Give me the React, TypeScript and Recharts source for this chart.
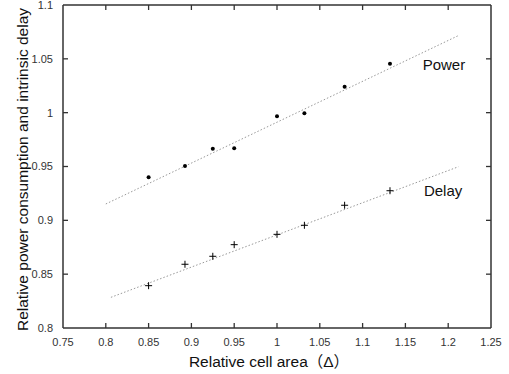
import {
  ReferenceDot,
  Scatter,
  ScatterChart,
  XAxis,
  YAxis,
} from "recharts"

const areaValues = [0.85, 0.8925, 0.925, 0.95, 1.0, 1.032, 1.079, 1.132]
const powerValues = [0.94, 0.9505, 0.9665, 0.967, 0.9966, 0.9994, 1.0241, 1.0455]
const delayValues = [0.8393, 0.8592, 0.8666, 0.8774, 0.887, 0.8954, 0.914, 0.9275]

const powerFit = [
  { x: 0.8, y: 0.9152 },
  { x: 1.213, y: 1.072 },
]
const delayFit = [
  { x: 0.806, y: 0.8285 },
  { x: 1.212, y: 0.9498 },
]

const xTicks = [0.75, 0.8, 0.85, 0.9, 0.95, 1, 1.05, 1.1, 1.15, 1.2, 1.25]
const yTicks = [0.8, 0.85, 0.9, 0.95, 1, 1.05, 1.1]

const X_MIN = 0.75
const X_MAX = 1.25
const Y_MIN = 0.8
const Y_MAX = 1.1

const powerData = areaValues.map((x, i) => ({ x, y: powerValues[i] }))
const delayData = areaValues.map((x, i) => ({ x, y: delayValues[i] }))

// tick positions on the frame, drawn as scatter marks pointing inward
const innerX = xTicks.slice(1, -1)
const innerY = yTicks.slice(1, -1)
const bottomTicks = innerX.map((x) => ({ x, y: Y_MIN }))
const topTicks = innerX.map((x) => ({ x, y: Y_MAX }))
const leftTicks = innerY.map((y) => ({ x: X_MIN, y }))
const rightTicks = innerY.map((y) => ({ x: X_MAX, y }))

const FONT = "Arial, 'Liberation Sans', 'Noto Sans CJK SC', sans-serif"
const AXIS = "#333"
const axisLine = { stroke: AXIS, strokeWidth: 1.5 }
const tickStyle = { fontSize: 11, fill: "#333", fontFamily: FONT }
const labelStyle = { fontSize: 15.5, fill: "#111", fontFamily: FONT }
const TL = 5

const makeTick = (dx: number, dy: number) => (props: any) => {
  const { cx, cy } = props
  return (
    <line x1={cx} y1={cy} x2={cx + dx} y2={cy + dy} stroke={AXIS} strokeWidth={1.3} />
  )
}
const UpTick = makeTick(0, -TL)
const DownTick = makeTick(0, TL)
const RightTick = makeTick(TL, 0)
const LeftTick = makeTick(-TL, 0)

const Dot = (props: any) => (
  <circle cx={props.cx} cy={props.cy} r={2} fill="#000" />
)

const Plus = (props: any) => {
  const { cx, cy } = props
  return (
    <g stroke="#000" strokeWidth={1}>
      <line x1={cx - 3.5} y1={cy} x2={cx + 3.5} y2={cy} />
      <line x1={cx} y1={cy - 3.5} x2={cx} y2={cy + 3.5} />
    </g>
  )
}

const Nothing = () => <g />

const fitLine = { stroke: "#999", strokeWidth: 1, strokeDasharray: "1.5 2" }

export default function App() {
  return (
    <div style={{ position: "absolute", left: 0, top: 0, background: "#fff" }}>
      <ScatterChart
        width={509}
        height={374}
        margin={{ top: 4, right: 17, bottom: 0, left: 0 }}
      >
        <XAxis
          type="number"
          dataKey="x"
          domain={[X_MIN, X_MAX]}
          ticks={xTicks}
          interval={0}
          height={46}
          axisLine={axisLine}
          tickLine={false}
          tickMargin={4}
          tick={tickStyle}
          tickFormatter={(v: number) => String(v)}
          label={{
            value: "Relative cell area（Δ）",
            position: "insideBottom",
            offset: 7,
            dx: -8,
            style: labelStyle,
          }}
        />
        <XAxis
          xAxisId="top"
          orientation="top"
          type="number"
          dataKey="x"
          domain={[X_MIN, X_MAX]}
          ticks={xTicks}
          height={1}
          axisLine={axisLine}
          tickLine={false}
          tick={false}
        />
        <YAxis
          type="number"
          dataKey="y"
          domain={[Y_MIN, Y_MAX]}
          ticks={yTicks}
          interval={0}
          width={63}
          axisLine={axisLine}
          tickLine={false}
          tickMargin={4}
          tick={tickStyle}
          tickFormatter={(v: number) => String(v)}
          label={{
            value: "Relative power consumption and intrinsic delay",
            angle: -90,
            position: "insideLeft",
            offset: 22,
            dy: 3,
            style: { ...labelStyle, textAnchor: "middle" },
          }}
        />
        <YAxis
          yAxisId="right"
          orientation="right"
          type="number"
          dataKey="y"
          domain={[Y_MIN, Y_MAX]}
          ticks={yTicks}
          width={1}
          axisLine={axisLine}
          tickLine={false}
          tick={false}
        />
        <Scatter data={bottomTicks} shape={UpTick} isAnimationActive={false} />
        <Scatter data={topTicks} shape={DownTick} isAnimationActive={false} />
        <Scatter data={leftTicks} shape={RightTick} isAnimationActive={false} />
        <Scatter data={rightTicks} shape={LeftTick} isAnimationActive={false} />
        <Scatter
          data={powerFit}
          xAxisId="top"
          yAxisId="right"
          line={fitLine}
          shape={Nothing}
          isAnimationActive={false}
        />
        <Scatter
          data={delayFit}
          line={fitLine}
          shape={Nothing}
          isAnimationActive={false}
        />
        <Scatter data={powerData} shape={Dot} isAnimationActive={false} />
        <Scatter data={delayData} shape={Plus} isAnimationActive={false} />
        <ReferenceDot
          x={1.195}
          y={1.0443}
          r={0}
          stroke="none"
          label={{ value: "Power", position: "center", style: { ...labelStyle, fontSize: 15 } }}
        />
        <ReferenceDot
          x={1.194}
          y={0.9275}
          r={0}
          stroke="none"
          label={{ value: "Delay", position: "center", style: { ...labelStyle, fontSize: 15 } }}
        />
      </ScatterChart>
    </div>
  )
}
